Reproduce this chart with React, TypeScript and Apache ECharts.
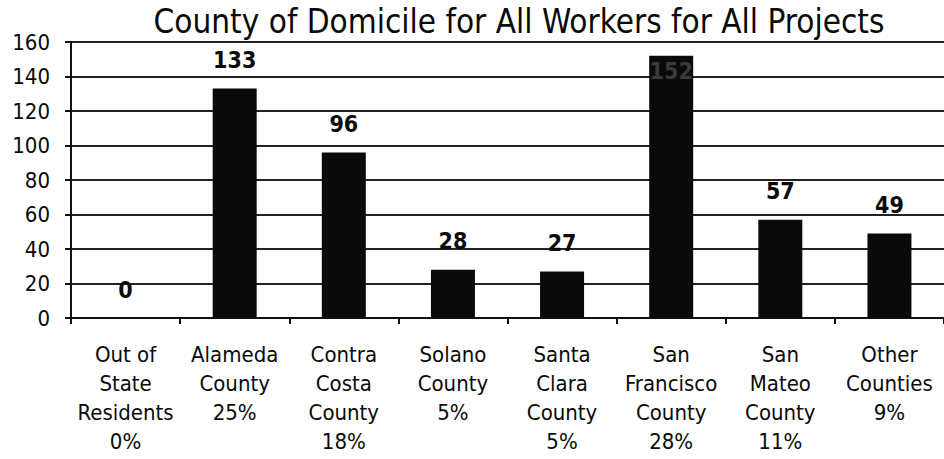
import React, { useEffect, useRef } from "react";
import * as echarts from "echarts";

const categories = [
  "Out of\nState\nResidents\n0%",
  "Alameda\nCounty\n25%",
  "Contra\nCosta\nCounty\n18%",
  "Solano\nCounty\n5%",
  "Santa\nClara\nCounty\n5%",
  "San\nFrancisco\nCounty\n28%",
  "San\nMateo\nCounty\n11%",
  "Other\nCounties\n9%",
];
const workers = [0, 133, 96, 28, 27, 152, 57, 49];
const titleText = "County of Domicile for All Workers for All Projects";

const FONT = "'DejaVu Sans Condensed', 'Liberation Sans Narrow', 'Open Sans', sans-serif";

export default function App() {
  const ref = useRef<HTMLDivElement>(null);
  useEffect(() => {
    if (!ref.current) return;
    const chart = echarts.init(ref.current, null, { renderer: "svg" });
    chart.setOption({
      animation: false,
      backgroundColor: "#ffffff",
      title: {
        text: titleText,
        left: 514,
        top: 0,
        textAlign: "center",
        textStyle: { fontFamily: FONT, fontSize: 33, fontWeight: "normal", color: "#0a0a0a" },
      },
      grid: { left: 71, right: 0, top: 42, bottom: 141, containLabel: false },
      xAxis: {
        type: "category",
        data: categories,
        axisLine: { show: true, lineStyle: { color: "#111", width: 2 } },
        axisTick: { show: true, length: 6, lineStyle: { color: "#111", width: 2 } },
        axisLabel: {
          interval: 0,
          margin: 22,
          fontFamily: FONT,
          fontSize: 22,
          lineHeight: 29,
          color: "#0a0a0a",
          align: "center",
        },
      },
      yAxis: {
        type: "value",
        min: 0,
        max: 160,
        interval: 20,
        axisLine: { show: true, lineStyle: { color: "#111", width: 2 } },
        axisTick: { show: true, length: 6, lineStyle: { color: "#111", width: 2 } },
        axisLabel: { margin: 21, fontFamily: FONT, fontSize: 22, color: "#0a0a0a" },
        splitLine: { show: true, lineStyle: { color: "#222", width: 2 } },
      },
      series: [
        {
          type: "bar",
          data: workers.map((v, i) =>
            i === 5
              ? { value: v, label: { position: "insideTop", distance: 4, color: "#3a3a3a" } }
              : v
          ),
          barWidth: 44,
          itemStyle: { color: "#0a0a0a" },
          label: {
            show: true,
            position: "top",
            distance: 17,
            fontFamily: FONT,
            fontSize: 23,
            fontWeight: "bold",
            color: "#0a0a0a",
          },
        },
      ],
    });
    return () => chart.dispose();
  }, []);
  return (
    <div
      ref={ref}
      style={{ position: "fixed", left: 0, top: 0, width: 944, height: 459 }}
    />
  );
}
